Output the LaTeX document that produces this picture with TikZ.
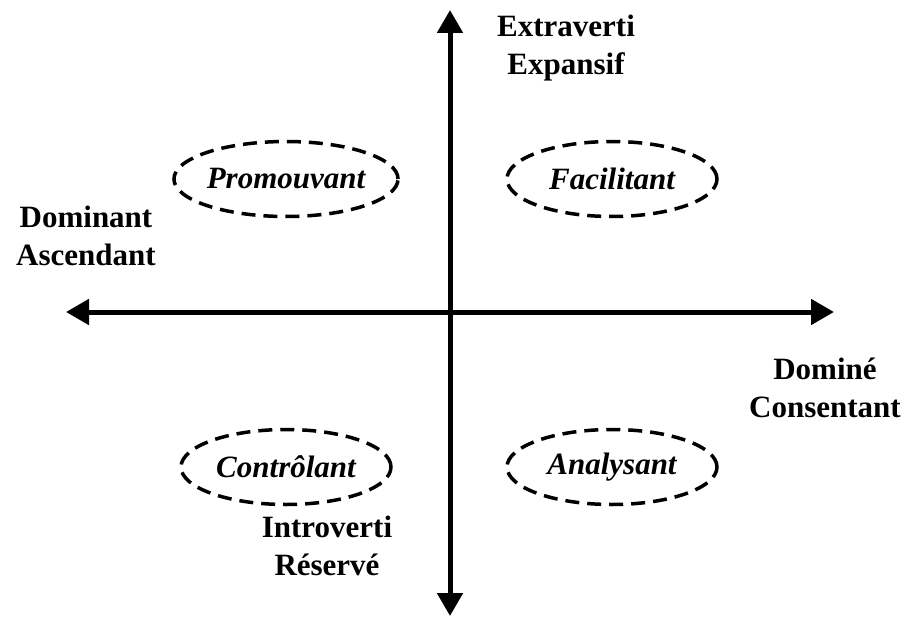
\documentclass[tikz,border=0pt]{standalone}
\usepackage{fontspec}
\setmainfont{Liberation Serif}
\usetikzlibrary{arrows.meta,shapes.geometric}
\begin{document}
\begin{tikzpicture}[x=1pt,y=-1pt,
  axis/.style={line width=5pt,{Triangle[length=23pt,width=25pt]}-{Triangle[length=23pt,width=25pt]}},
  lbl/.style={font=\fontsize{31}{37.5}\selectfont\bfseries,align=center,inner sep=0pt},
  oval/.style={ellipse,draw,line width=3.5pt,dash pattern=on 14pt off 8pt,minimum width=210pt,minimum height=75pt,inner sep=0pt,font=\fontsize{31}{37.5}\selectfont\bfseries\itshape}]
\useasboundingbox (0,0) rectangle (905,618);
\coordinate (top) at (450,10);
\coordinate (bot) at (450,616);
\coordinate (left) at (66,312);
\coordinate (right) at (834,312);
\draw[axis] (bot) -- (top);
\draw[axis] (left) -- (right);
\node[oval] (pro) at (286,179) {Promouvant};
\node[oval] (fac) at (612,179) {Facilitant};
\node[oval] (con) at (286,467) {Contrôlant};
\node[oval] (ana) at (612,467) {Analysant};
\node[lbl] (ext) at (566,48) {Extraverti\\Expansif};
\node[lbl] (dom) at (86,236) {Dominant\\Ascendant};
\node[lbl] (dmn) at (825,388) {Dominé\\Consentant};
\node[lbl] (int) at (327,546) {Introverti\\Réservé};
\end{tikzpicture}
\end{document}
